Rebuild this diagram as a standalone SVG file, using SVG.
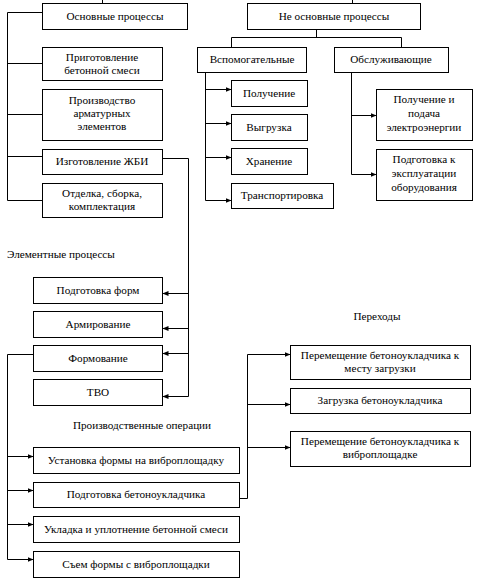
<svg xmlns="http://www.w3.org/2000/svg" width="477" height="584" viewBox="0 0 477 584">
<style>
.b{fill:#fff;stroke:#000;stroke-width:1}
.c{fill:none;stroke:#000;stroke-width:1}
.t{font-family:'Liberation Serif',serif;font-size:11.2px;fill:#000}
.m{font-family:'Liberation Serif',serif;font-size:11.2px;fill:#000;text-anchor:middle}
</style>
<defs>
<marker id="a" markerWidth="6" markerHeight="6" refX="6" refY="3" orient="auto" markerUnits="userSpaceOnUse">
<path d="M0,0.5 L6,3 L0,5.5 Z" fill="#000"/>
</marker>
</defs>
<rect width="477" height="584" fill="#fff"/>
<g id="connectors">
<path class="c" d="M102.5,0 V3.5"/>
<path class="c" d="M352.5,0 V3.5"/>
<path class="c" d="M42.5,12.5 H7.5 V200.5 H42.5"/>
<path class="c" d="M7.5,63.5 H42.5 M7.5,114.5 H42.5 M7.5,156.5 H42.5"/>
<path class="c" d="M162.5,158.5 H188.5 V396.5"/>
<path class="c" marker-end="url(#a)" d="M188.5,293.5 H162.5"/>
<path class="c" marker-end="url(#a)" d="M188.5,328.5 H162.5"/>
<path class="c" marker-end="url(#a)" d="M188.5,353.5 H162.5"/>
<path class="c" marker-end="url(#a)" d="M188.5,396.5 H162.5"/>
<path class="c" d="M33.5,354.5 H7.5 V559.5"/>
<path class="c" marker-end="url(#a)" d="M7.5,456.5 H33.5"/>
<path class="c" marker-end="url(#a)" d="M7.5,490.5 H33.5"/>
<path class="c" marker-end="url(#a)" d="M7.5,524.5 H33.5"/>
<path class="c" marker-end="url(#a)" d="M7.5,559.5 H33.5"/>
<path class="c" d="M239.5,498.5 H247.5 V354.5"/>
<path class="c" marker-end="url(#a)" d="M247.5,354.5 H290.5"/>
<path class="c" marker-end="url(#a)" d="M247.5,404.5 H290.5"/>
<path class="c" marker-end="url(#a)" d="M247.5,447.5 H290.5"/>
<path class="c" d="M316.5,29.5 V37.5 M231.5,47.5 V37.5 H401.5 V47.5"/>
<path class="c" d="M205.5,72.5 V200.5"/>
<path class="c" marker-end="url(#a)" d="M205.5,89.5 H231.5"/>
<path class="c" marker-end="url(#a)" d="M205.5,123.5 H231.5"/>
<path class="c" marker-end="url(#a)" d="M205.5,157.5 H231.5"/>
<path class="c" marker-end="url(#a)" d="M205.5,200.5 H231.5"/>
<path class="c" d="M351.5,72.5 V174.5"/>
<path class="c" marker-end="url(#a)" d="M351.5,115.5 H376.5"/>
<path class="c" marker-end="url(#a)" d="M351.5,174.5 H376.5"/>
</g>
<g id="n-osn"><rect class="b" x="42.5" y="3.5" width="145" height="26"/><text class="m" x="115" y="20">Основные процессы</text></g>
<g id="n-prig"><rect class="b" x="42.5" y="47.5" width="120" height="33"/><text class="m" x="102" y="61">Приготовление</text><text class="m" x="102" y="74">бетонной смеси</text></g>
<g id="n-proizv"><rect class="b" x="42.5" y="89.5" width="120" height="51"/><text class="m" x="102" y="104">Производство</text><text class="m" x="102" y="117">арматурных</text><text class="m" x="102" y="130">элементов</text></g>
<g id="n-zhbi"><rect class="b" x="42.5" y="149.5" width="120" height="25"/><text class="m" x="102" y="165">Изготовление ЖБИ</text></g>
<g id="n-otd"><rect class="b" x="42.5" y="183.5" width="120" height="34"/><text class="m" x="102" y="197">Отделка, сборка,</text><text class="m" x="102" y="210">комплектация</text></g>
<g id="n-neosn"><rect class="b" x="247.5" y="3.5" width="173" height="26"/><text class="m" x="334" y="20">Не основные процессы</text></g>
<g id="n-vsp"><rect class="b" x="197.5" y="47.5" width="109" height="25"/><text class="m" x="252" y="63">Вспомогательные</text></g>
<g id="n-obs"><rect class="b" x="334.5" y="47.5" width="114" height="25"/><text class="m" x="391" y="63">Обслуживающие</text></g>
<g id="n-pol"><rect class="b" x="231.5" y="80.5" width="76" height="26"/><text class="m" x="269" y="97">Получение</text></g>
<g id="n-vyg"><rect class="b" x="231.5" y="114.5" width="76" height="26"/><text class="m" x="269" y="131">Выгрузка</text></g>
<g id="n-hran"><rect class="b" x="231.5" y="148.5" width="76" height="26"/><text class="m" x="269" y="165">Хранение</text></g>
<g id="n-trans"><rect class="b" x="231.5" y="183.5" width="102" height="25"/><text class="m" x="282" y="199">Транспортировка</text></g>
<g id="n-elek"><rect class="b" x="376.5" y="89.5" width="96" height="51"/><text class="m" x="424" y="103">Получение и</text><text class="m" x="424" y="117">подача</text><text class="m" x="424" y="131">электроэнергии</text></g>
<g id="n-ekspl"><rect class="b" x="376.5" y="149.5" width="96" height="51"/><text class="m" x="424" y="163">Подготовка к</text><text class="m" x="424" y="177">эксплуатации</text><text class="m" x="424" y="191">оборудования</text></g>
<text class="t" x="7" y="258">Элементные процессы</text>
<g id="n-podf"><rect class="b" x="33.5" y="277.5" width="129" height="26"/><text class="m" x="98" y="294">Подготовка форм</text></g>
<g id="n-arm"><rect class="b" x="33.5" y="311.5" width="129" height="26"/><text class="m" x="98" y="328">Армирование</text></g>
<g id="n-form"><rect class="b" x="33.5" y="345.5" width="129" height="26"/><text class="m" x="98" y="362">Формование</text></g>
<g id="n-tvo"><rect class="b" x="33.5" y="379.5" width="129" height="26"/><text class="m" x="98" y="396">ТВО</text></g>
<text class="m" x="142" y="429">Производственные операции</text>
<g id="n-ust"><rect class="b" x="33.5" y="447.5" width="206" height="26"/><text class="m" x="136" y="464">Установка формы на виброплощадку</text></g>
<g id="n-podb"><rect class="b" x="33.5" y="482.5" width="206" height="25"/><text class="m" x="136" y="498">Подготовка бетоноукладчика</text></g>
<g id="n-ukl"><rect class="b" x="33.5" y="516.5" width="206" height="26"/><text class="m" x="136" y="533">Укладка и уплотнение бетонной смеси</text></g>
<g id="n-sem"><rect class="b" x="33.5" y="551.5" width="206" height="26"/><text class="m" x="136" y="568">Съем формы с виброплощадки</text></g>
<text class="m" x="377" y="320">Переходы</text>
<g id="n-per1"><rect class="b" x="290.5" y="345.5" width="180" height="34"/><text class="m" x="380" y="359">Перемещение бетоноукладчика к</text><text class="m" x="380" y="372">месту загрузки</text></g>
<g id="n-zagr"><rect class="b" x="290.5" y="388.5" width="180" height="25"/><text class="m" x="380" y="404">Загрузка бетоноукладчика</text></g>
<g id="n-per2"><rect class="b" x="290.5" y="431.5" width="180" height="35"/><text class="m" x="380" y="445">Перемещение бетоноукладчика к</text><text class="m" x="380" y="458">виброплощадке</text></g>
</svg>
